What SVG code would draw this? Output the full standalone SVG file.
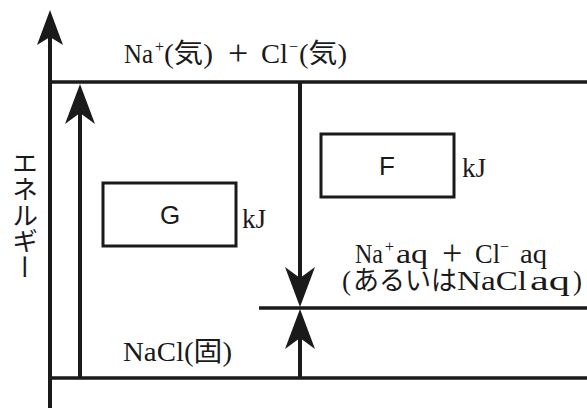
<svg xmlns="http://www.w3.org/2000/svg" width="587" height="408" viewBox="0 0 587 408">
<style>
.ln{stroke:#1a1a1a;stroke-width:3.5;fill:none}
.vl{stroke:#1a1a1a;stroke-width:4;fill:none}
.bx{fill:#fff;stroke:#1a1a1a;stroke-width:3}
.t{font-family:"Liberation Serif","Noto Sans CJK JP",serif;font-size:27px;fill:#1a1a1a}
.sp{font-size:16px}
.pl{font-size:36px}
.s{font-family:"Liberation Sans",Arial,sans-serif;font-size:26px;fill:#1a1a1a}
.v{font-family:"Noto Sans CJK JP",sans-serif;font-size:26px;fill:#1a1a1a;writing-mode:vertical-rl;text-orientation:upright}
</style>
<defs>
<marker id="ah" markerUnits="userSpaceOnUse" markerWidth="60" markerHeight="60" refX="0" refY="0" orient="auto" overflow="visible">
<path d="M29,0 L-11,-15 L0,0 L-11,15 Z" fill="#1a1a1a"/>
</marker>
<marker id="ax" markerUnits="userSpaceOnUse" markerWidth="60" markerHeight="60" refX="0" refY="0" orient="auto" overflow="visible">
<path d="M27,0 L-8,-13 L0,0 L-8,13 Z" fill="#1a1a1a"/>
</marker>
</defs>
<g id="levels">
<g id="gas"><line class="ln" x1="50" y1="82" x2="587" y2="82"/>
<text class="t" y="63"><tspan x="124" textLength="29" lengthAdjust="spacingAndGlyphs">Na</tspan><tspan class="sp" x="155" dy="-11">+</tspan><tspan x="164" dy="11" textLength="49" lengthAdjust="spacingAndGlyphs">(気)</tspan><tspan class="pl" x="228" dy="2">+</tspan><tspan x="261" dy="-2" textLength="27" lengthAdjust="spacingAndGlyphs">Cl</tspan><tspan class="sp" x="289" dy="-11">−</tspan><tspan x="299" dy="11" textLength="48" lengthAdjust="spacingAndGlyphs">(気)</tspan></text></g>
<g id="aq"><line class="ln" x1="259" y1="308" x2="587" y2="308"/>
<text class="t" y="263"><tspan x="355" textLength="28" lengthAdjust="spacingAndGlyphs">Na</tspan><tspan class="sp" x="385" dy="-11">+</tspan><tspan x="396" dy="11" textLength="32" lengthAdjust="spacingAndGlyphs">aq</tspan><tspan class="pl" x="442" dy="2">+</tspan><tspan x="475" dy="-2" textLength="25" lengthAdjust="spacingAndGlyphs">Cl</tspan><tspan class="sp" x="500" dy="-11">−</tspan><tspan x="520" dy="11" textLength="27" lengthAdjust="spacingAndGlyphs">aq</tspan></text>
<text class="t" y="290"><tspan x="342">(</tspan><tspan x="353" textLength="104" lengthAdjust="spacingAndGlyphs">あるいは</tspan><tspan x="457" textLength="70" lengthAdjust="spacingAndGlyphs">NaCl</tspan><tspan x="530" textLength="40" lengthAdjust="spacingAndGlyphs">aq</tspan><tspan x="573">)</tspan></text></g>
<g id="solid"><line class="ln" x1="50" y1="378" x2="587" y2="378"/>
<text class="t" x="123" y="361" textLength="109" lengthAdjust="spacingAndGlyphs">NaCl(固)</text></g>
</g>
<g id="boxG"><rect class="bx" x="103" y="183" width="133" height="63"/><text class="s" x="170" y="224" text-anchor="middle">G</text><text class="t" x="242" y="228">kJ</text></g>
<g id="boxF"><rect class="bx" x="321" y="134" width="133" height="63"/><text class="s" x="387" y="175" text-anchor="middle">F</text><text class="t" x="462" y="177">kJ</text></g>
<g id="axislabel"><text class="v" x="25" y="150">エネルギー</text></g>
<g id="connectors">
<line class="vl" x1="50" y1="408" x2="50" y2="37" marker-end="url(#ax)"/>
<line class="vl" x1="80" y1="378" x2="80" y2="113" marker-end="url(#ah)"/>
<line class="vl" x1="300" y1="82" x2="300" y2="278" marker-end="url(#ah)"/>
<line class="vl" x1="300" y1="378" x2="300" y2="338" marker-end="url(#ah)"/>
</g>
</svg>
